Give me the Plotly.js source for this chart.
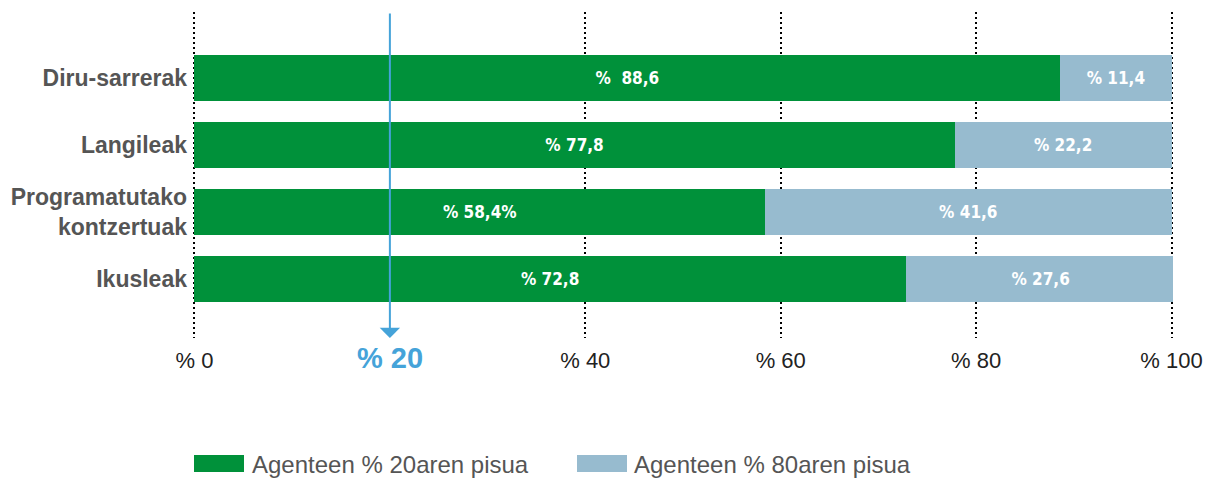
<!DOCTYPE html>
<html>
<head>
<meta charset="utf-8">
<script src="https://cdn.plot.ly/plotly-3.0.1.min.js"></script>
<style>
  html, body { margin: 0; padding: 0; background: #fff; }
  #myDiv { width: 1224px; height: 488px; }
</style>
</head>
<body>
<div id="myDiv"></div>
<script>
var categories = ['Diru-sarrerak', 'Langileak', 'Programatutako<br>kontzertuak', 'Ikusleak'];
var share20 = [88.6, 77.8, 58.4, 72.8];
var share80 = [11.4, 22.2, 41.6, 27.6];
var labels20 = ['%  88,6', '% 77,8', '% 58,4%', '% 72,8'];
var labels80 = ['% 11,4', '% 22,2', '% 41,6', '% 27,6'];
var seriesNames = ['Agenteen % 20aren pisua', 'Agenteen % 80aren pisua'];
var tickValues = [0, 40, 60, 80, 100];
var tickLabels = ['% 0', '% 40', '% 60', '% 80', '% 100'];
var markerValue = 20;
var markerLabel = '% 20';

var green = '#00913a';
var lightBlue = '#97bbcf';
var arrowBlue = '#45a3d9';
var barFont = { family: 'Liberation Sans Narrow, DejaVu Sans Condensed, Arial', size: 17, color: '#ffffff', weight: 'bold' };

var trace1 = {
  y: categories,
  x: share20,
  name: seriesNames[0],
  type: 'bar',
  orientation: 'h',
  width: 0.69,
  marker: { color: green },
  text: labels20,
  textposition: 'inside',
  insidetextanchor: 'middle',
  textangle: 0,
  constraintext: 'none',
  textfont: barFont,
  showlegend: false,
  hoverinfo: 'skip'
};

var trace2 = {
  y: categories,
  x: share80,
  name: seriesNames[1],
  type: 'bar',
  orientation: 'h',
  width: 0.69,
  marker: { color: lightBlue },
  text: labels80,
  textposition: 'inside',
  insidetextanchor: 'middle',
  textangle: 0,
  constraintext: 'none',
  textfont: barFont,
  showlegend: false,
  hoverinfo: 'skip'
};

var data = [trace1, trace2];

// small padding on the x range so the dotted lines at 0 and 100 are kept
var xPad = 0.15;
var mL = 193, mR = 51;
var plotW = 1224 - mL - mR, plotH = 326, plotBottom = 338;
function px(x) { return (x - mL) / plotW; }
function py(y) { return (plotBottom - y) / plotH; }

var layout = {
  width: 1224,
  height: 488,
  barmode: 'stack',
  paper_bgcolor: '#ffffff',
  plot_bgcolor: '#ffffff',
  margin: { l: mL, r: mR, t: 12, b: 150, pad: 0 },
  xaxis: {
    range: [-xPad, 100 + xPad],
    tickvals: tickValues,
    ticktext: tickLabels,
    showgrid: true,
    gridcolor: '#000000',
    gridwidth: 2,
    griddash: '2px,3px',
    zeroline: false,
    showline: false,
    ticks: '',
    ticklabelstandoff: 7,
    tickfont: { family: 'Liberation Sans, Arial', size: 22, color: '#222222' }
  },
  yaxis: {
    type: 'category',
    range: [3.88, -0.985],
    showgrid: false,
    zeroline: false,
    showline: false,
    ticks: '',
    ticklabelstandoff: 5,
    tickfont: { family: 'Liberation Sans, Arial', size: 23, color: '#555555', weight: 'bold' }
  },
  shapes: [
    { type: 'rect', xref: 'paper', yref: 'paper', x0: px(194), x1: px(244), y0: py(472), y1: py(455),
      fillcolor: green, line: { width: 0 } },
    { type: 'rect', xref: 'paper', yref: 'paper', x0: px(577), x1: px(627), y0: py(472), y1: py(455),
      fillcolor: lightBlue, line: { width: 0 } }
  ],
  annotations: [
    { xref: 'x', yref: 'paper', x: markerValue, y: 0.0, ax: 0, ay: -326, axref: 'pixel', ayref: 'pixel',
      text: '', showarrow: true, arrowhead: 1, arrowsize: 1.7, arrowwidth: 2, arrowcolor: arrowBlue, standoff: 0 },
    { xref: 'x', yref: 'paper', x: markerValue, y: py(358), xanchor: 'center', yanchor: 'middle',
      text: '<b>' + markerLabel + '</b>', showarrow: false,
      font: { family: 'Liberation Sans, Arial', size: 29, color: arrowBlue } },
    { xref: 'paper', yref: 'paper', x: px(250), y: py(464), xanchor: 'left', yanchor: 'middle',
      text: seriesNames[0], showarrow: false,
      font: { family: 'Liberation Sans, Arial', size: 24, color: '#555555' } },
    { xref: 'paper', yref: 'paper', x: px(632), y: py(464), xanchor: 'left', yanchor: 'middle',
      text: seriesNames[1], showarrow: false,
      font: { family: 'Liberation Sans, Arial', size: 24, color: '#555555' } }
  ]
};

Plotly.newPlot('myDiv', data, layout, { staticPlot: true, displayModeBar: false });
</script>
</body>
</html>
